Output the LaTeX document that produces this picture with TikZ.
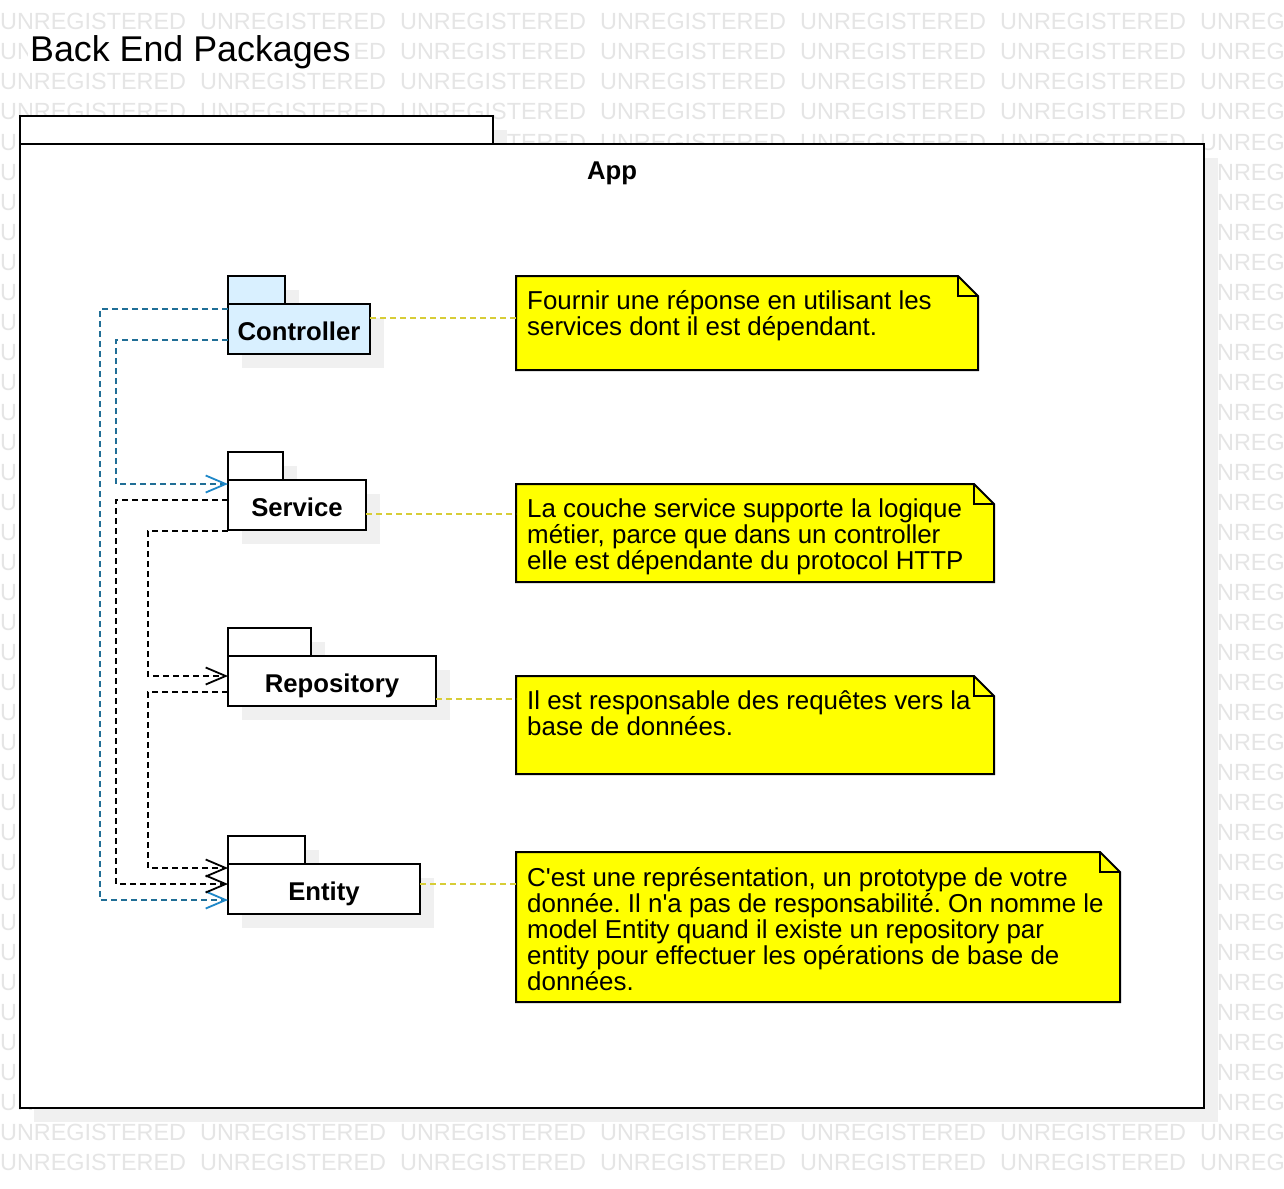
\documentclass[tikz,border=0pt]{standalone}
\usepackage{fontspec}
\setmainfont{Liberation Sans}
\usetikzlibrary{arrows.meta,calc}
\definecolor{wmgray}{RGB}{229,229,229}
\definecolor{shadowgray}{RGB}{240,240,240}
\definecolor{ctrlblue}{RGB}{217,240,255}
\definecolor{depblue}{RGB}{32,110,150}
\definecolor{tipblue}{RGB}{30,135,200}
\definecolor{linkyellow}{RGB}{215,205,55}
\definecolor{noteyellow}{RGB}{255,255,0}
\pgfdeclarelayer{wmlayer}
\pgfdeclarelayer{shlayer}
\pgfsetlayers{wmlayer,shlayer,main}
\frenchspacing
\begin{document}
\begin{tikzpicture}[x=1pt,y=-1pt,
  wm/.style={font=\fontsize{23.4pt}{24pt}\selectfont, text=wmgray, inner sep=0pt, anchor=base west},
  pkg/.style={draw, line width=2pt, fill=white, minimum height=50pt, inner sep=0pt, outer sep=0pt,
    anchor=north west, font=\bfseries\fontsize{25.7pt}{26pt}\selectfont, text height=22pt, text depth=0pt},
  tabbox/.style={draw, line width=2pt, fill=white},
  dep/.style={draw=depblue, line width=1.8pt, dash pattern=on 6pt off 4pt,
    -{Straight Barb[length=20pt, width=17pt, color=tipblue]}},
  depk/.style={draw=black, line width=1.8pt, dash pattern=on 6pt off 4pt,
    -{Straight Barb[length=20pt, width=17pt]}},
  link/.style={draw=linkyellow, line width=1.8pt, dash pattern=on 6pt off 4pt},
  notearea/.style={inner sep=0pt, outer sep=0pt, anchor=north west},
  note/.style={fill=noteyellow, draw=black, line width=2pt, line join=miter},
  notetxt/.style={font=\fontsize{25.9pt}{26pt}\selectfont, inner sep=0pt, anchor=base west}
]
\useasboundingbox (0,0) rectangle (1284,1188);

% watermark, title and App frame
\begin{pgfonlayer}{wmlayer}
\fill[white] (0,0) rectangle (1284,1188);
\foreach \r in {0,...,38}{
  \foreach \c in {0,...,6}{
    \node[wm] (wm-\r-\c) at (\c*200, 30+\r*30) {UNREGISTERED};
  }
}
\node[font=\fontsize{35.8pt}{36pt}\selectfont, fill=white, inner sep=2pt, anchor=base west] (title) at (28,62) {Back End Packages};
\fill[shadowgray] (34,130) rectangle (507,158);
\fill[shadowgray] (34,158) rectangle (1218,1122);
\node[draw, line width=2pt, fill=white, minimum width=1184pt, minimum height=964pt, inner sep=0pt, outer sep=0pt, anchor=north west] (app) at (20,144) {};
\draw[tabbox] (app.north west) rectangle ++(473,-28);
\node[font=\bfseries\fontsize{25.7pt}{26pt}\selectfont, inner sep=0pt, anchor=base] (applabel) at ($(app.north)+(0,35)$) {App};
\end{pgfonlayer}

% packages
\node[pkg, fill=ctrlblue, minimum width=142pt] (ctrl) at (228,304) {Controller};
\node[pkg, minimum width=138pt] (svc) at (228,480) {Service};
\node[pkg, minimum width=208pt] (repo) at (228,656) {Repository};
\node[pkg, minimum width=192pt] (ent) at (228,864) {Entity};
\draw[tabbox, fill=ctrlblue] (ctrl.north west) rectangle ++(57,-28);
\draw[tabbox] (svc.north west) rectangle ++(55,-28);
\draw[tabbox] (repo.north west) rectangle ++(83,-28);
\draw[tabbox] (ent.north west) rectangle ++(77,-28);

\begin{pgfonlayer}{shlayer}
\foreach \n/\w in {ctrl/57,svc/55,repo/83,ent/77}{
  \fill[shadowgray] ($(\n.north west)+(14,14)$) rectangle ($(\n.south east)+(14,14)$);
  \fill[shadowgray] ($(\n.north west)+(14,-14)$) rectangle ++(\w,28);
}
\end{pgfonlayer}

% dependencies
\draw[dep] ($(ctrl.north west)+(0,5)$) -- ++(-128,0) |- ($(ent.north west)+(0,36)$);
\draw[dep] ($(ctrl.north west)+(0,36)$) -- ++(-112,0) |- ($(svc.north west)+(0,4)$);
\draw[depk] ($(svc.north west)+(0,20)$) -- ++(-112,0) |- ($(ent.north west)+(0,20)$);
\draw[depk] ($(svc.south west)+(0,1)$) -- ++(-80,0) |- ($(repo.north west)+(0,20)$);
\draw[depk] ($(repo.north west)+(0,36)$) -- ++(-80,0) |- ($(ent.north west)+(0,4)$);

% notes
\node[notearea, minimum width=462pt, minimum height=94pt] (n1) at (516,276) {};
\node[notearea, minimum width=478pt, minimum height=98pt] (n2) at (516,484) {};
\node[notearea, minimum width=478pt, minimum height=98pt] (n3) at (516,676) {};
\node[notearea, minimum width=604pt, minimum height=150pt] (n4) at (516,852) {};
\foreach \n in {n1,n2,n3,n4}{
  \filldraw[note] (\n.north west) -- ($(\n.north east)+(-20,0)$) -- ($(\n.north east)+(0,20)$) -- (\n.south east) -- (\n.south west) -- cycle;
  \draw[note, fill=none] ($(\n.north east)+(-20,0)$) -- ($(\n.north east)+(-20,20)$) -- ($(\n.north east)+(0,20)$);
}
\node[notetxt] (n1a) at ($(n1.north west)+(11,33)$) {Fournir une réponse en utilisant les};
\node[notetxt] (n1b) at ($(n1.north west)+(11,59)$) {services dont il est dépendant.};
\node[notetxt] (n2a) at ($(n2.north west)+(11,33)$) {La couche service supporte la logique};
\node[notetxt] (n2b) at ($(n2.north west)+(11,59)$) {métier, parce que dans un controller};
\node[notetxt] (n2c) at ($(n2.north west)+(11,85)$) {elle est dépendante du protocol HTTP};
\node[notetxt] (n3a) at ($(n3.north west)+(11,33)$) {Il est responsable des requêtes vers la};
\node[notetxt] (n3b) at ($(n3.north west)+(11,59)$) {base de données.};
\node[notetxt] (n4a) at ($(n4.north west)+(11,34)$) {C\textquotesingle est une représentation, un prototype de votre};
\node[notetxt] (n4b) at ($(n4.north west)+(11,60)$) {donnée. Il n\textquotesingle a pas de responsabilité. On nomme le};
\node[notetxt] (n4c) at ($(n4.north west)+(11,86)$) {model Entity quand il existe un repository par};
\node[notetxt] (n4d) at ($(n4.north west)+(11,112)$) {entity pour effectuer les opérations de base de};
\node[notetxt] (n4e) at ($(n4.north west)+(11,138)$) {données.};

% note links
\coordinate (c1) at ($(ctrl.north east)+(0,14)$);
\coordinate (c2) at ($(svc.north east)+(0,34)$);
\coordinate (c3) at ($(repo.north east)+(0,43)$);
\coordinate (c4) at ($(ent.north east)+(0,20)$);
\draw[link] (c1) -- (c1 -| n1.west);
\draw[link] (c2) -- (c2 -| n2.west);
\draw[link] (c3) -- (c3 -| n3.west);
\draw[link] (c4) -- (c4 -| n4.west);
\end{tikzpicture}
\end{document}
